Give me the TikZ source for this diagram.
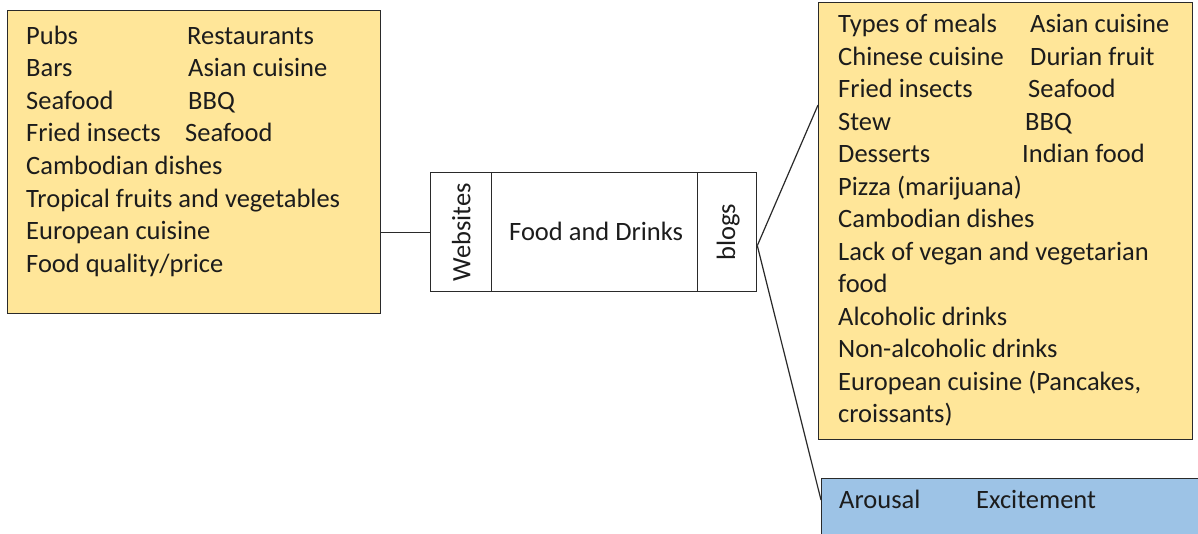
\documentclass[tikz,border=0pt]{standalone}
\usepackage{fontspec}
\setmainfont{Carlito}
\usetikzlibrary{calc}
\definecolor{boxyellow}{HTML}{FFE699}
\definecolor{boxblue}{HTML}{9DC3E6}
\definecolor{ink}{HTML}{1C1C1C}
\definecolor{edge}{HTML}{2A2A2A}
\begin{document}
\begin{tikzpicture}[x=1pt,y=-1pt,
  yellowbox/.style={draw=edge, line width=1.3pt, fill=boxyellow, anchor=north west, inner sep=0pt},
  bluebox/.style={draw=edge, line width=1.3pt, fill=boxblue, anchor=north west, inner sep=0pt},
  cell/.style={draw=edge, line width=1.3pt, fill=white, anchor=north west, inner sep=0pt, minimum height=119pt},
  txt/.style={text=ink, inner sep=0pt, anchor=base west, font=\fontsize{26.5}{32.5}\selectfont},
  ctxt/.style={text=ink, inner sep=0pt, anchor=center, font=\fontsize{26.5}{32.5}\selectfont},
  link/.style={draw=edge, line width=1.2pt}]
\useasboundingbox (0,0) rectangle (1198,533);
\clip (0,0) rectangle (1198,533);
\fill[white] (0,0) rectangle (1198,533);

% boxes
\node[yellowbox, minimum width=373pt, minimum height=303pt] (leftbox) at (7,10) {};
\node[yellowbox, minimum width=374pt, minimum height=437pt] (rightbox) at (818,2) {};
\node[bluebox, minimum width=400pt, minimum height=90pt] (blue) at (821,478) {};

% hub
\node[cell, minimum width=61pt] (web) at (430,172) {};
\node[cell, minimum width=206pt] (food) at (491,172) {};
\node[cell, minimum width=59pt] (blogs) at (697,172) {};
\node[ctxt, rotate=90] (webtxt) at (web.center) {Websites};
\node[txt] (foodtxt) at (509,240) {Food and Drinks};
\node[ctxt, rotate=90] (blogstxt) at ([xshift=1pt]blogs.center) {blogs};

% connectors
\coordinate (fork) at ([yshift=-13.5pt]blogs.east);
\draw[link] (web.west) -- (web.west -| leftbox.east);
\draw[link] (fork) -- ($(rightbox.north west)+(0,103)$);
\draw[link] (fork) -- ($(blue.north west)+(0,22)$);

% left box text
\node[txt] (l1) at (26,44) {Pubs};
\node[txt] (l1b) at (187,44) {Restaurants};
\node[txt] (l2) at (26,76.6) {Bars};
\node[txt] (l2b) at (188,76.6) {Asian cuisine};
\node[txt] (l3) at (26,109.2) {Seafood};
\node[txt] (l3b) at (188,109.2) {BBQ};
\node[txt] (l4) at (26,141.8) {Fried insects};
\node[txt] (l4b) at (185,141.8) {Seafood};
\node[txt] (l5) at (26,174.4) {Cambodian dishes};
\node[txt] (l6) at (26,207) {Tropical fruits and vegetables};
\node[txt] (l7) at (26,239.6) {European cuisine};
\node[txt] (l8) at (26,272.2) {Food quality/price};

% right box text
\node[txt] (r1) at (838,32.5) {Types of meals};
\node[txt] (r1b) at (1030,32.5) {Asian cuisine};
\node[txt] (r2) at (838,65) {Chinese cuisine};
\node[txt] (r2b) at (1030,65) {Durian fruit};
\node[txt] (r3) at (838,97.5) {Fried insects};
\node[txt] (r3b) at (1028,97.5) {Seafood};
\node[txt] (r4) at (838,130) {Stew};
\node[txt] (r4b) at (1025,130) {BBQ};
\node[txt] (r5) at (838,162.5) {Desserts};
\node[txt] (r5b) at (1022,162.5) {Indian food};
\node[txt] (r6) at (838,195) {Pizza (marijuana)};
\node[txt] (r7) at (838,227.5) {Cambodian dishes};
\node[txt] (r8) at (838,260) {Lack of vegan and vegetarian};
\node[txt] (r9) at (838,292.5) {food};
\node[txt] (r10) at (838,325) {Alcoholic drinks};
\node[txt] (r11) at (838,357.5) {Non-alcoholic drinks};
\node[txt] (r12) at (838,390) {European cuisine (Pancakes,};
\node[txt] (r13) at (838,422.5) {croissants)};

% blue box text
\node[txt] (b1) at (839,508) {Arousal};
\node[txt] (b2) at (976,508) {Excitement};
\end{tikzpicture}
\end{document}
